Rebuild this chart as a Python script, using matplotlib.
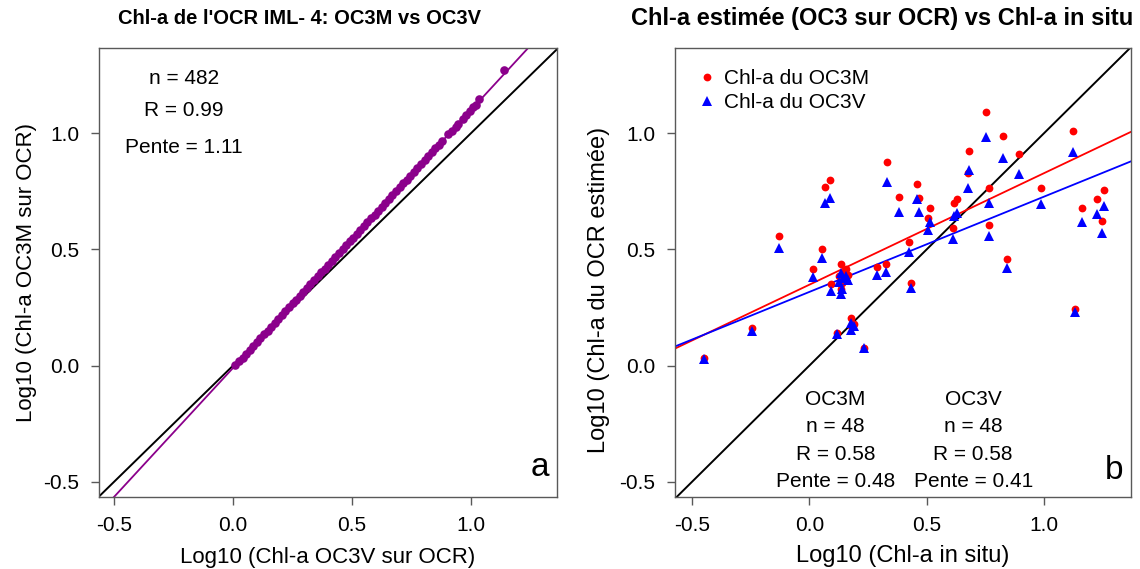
import matplotlib
matplotlib.use("Agg")
import matplotlib.pyplot as plt
from matplotlib.lines import Line2D

plt.rcParams["font.family"] = ["Liberation Sans", "DejaVu Sans"]

# --- panel a: OC3M vs OC3V (log10 Chl-a on the OCR)
oc3v_ocr = [0.010, 0.025, 0.040, 0.055, 0.070, 0.085, 0.100, 0.115, 0.130, 0.145,
            0.160, 0.175, 0.190, 0.205, 0.220, 0.235, 0.250, 0.265, 0.280, 0.295,
            0.310, 0.325, 0.340, 0.355, 0.370, 0.385, 0.400, 0.415, 0.430, 0.445,
            0.460, 0.475, 0.490, 0.505, 0.520, 0.535, 0.550, 0.565, 0.580, 0.595,
            0.610, 0.625, 0.640, 0.655, 0.670, 0.685, 0.700, 0.715, 0.730, 0.745,
            0.760, 0.775, 0.790, 0.805, 0.820, 0.835, 0.850, 0.865, 0.880, 0.905,
            0.920, 0.935, 0.945, 0.965, 0.980, 0.995, 1.010, 1.020, 1.034, 1.140]
oc3m_ocr = [0.002, 0.018, 0.034, 0.051, 0.068, 0.085, 0.101, 0.118, 0.134, 0.151,
            0.168, 0.184, 0.201, 0.218, 0.234, 0.251, 0.268, 0.284, 0.301, 0.318,
            0.334, 0.351, 0.367, 0.384, 0.401, 0.417, 0.434, 0.451, 0.467, 0.484,
            0.501, 0.517, 0.534, 0.551, 0.567, 0.584, 0.601, 0.617, 0.634, 0.650,
            0.667, 0.684, 0.700, 0.717, 0.734, 0.750, 0.767, 0.784, 0.800, 0.817,
            0.834, 0.850, 0.867, 0.884, 0.900, 0.917, 0.934, 0.950, 0.967, 0.995,
            1.011, 1.028, 1.039, 1.061, 1.078, 1.094, 1.111, 1.122, 1.148, 1.272]
fit_a = (-0.01, 1.11)          # intercept, slope
stats_a = ["n = 482", "R = 0.99", "Pente = 1.11"]

# --- panel b: estimated Chl-a (OC3M / OC3V on OCR) vs in situ
in_situ = [-0.447, -0.243, -0.131, 0.016, 0.054, 0.065, 0.089, 0.094, 0.118, 0.136,
           0.157, 0.136, 0.178, 0.190, 0.178, 0.235, 0.288, 0.328, 0.333, 0.383,
           0.426, 0.433, 0.458, 0.469, 0.505, 0.512, 0.614, 0.617, 0.631, 0.678,
           0.675, 0.753, 0.766, 0.767, 0.827, 0.841, 0.894, 0.986, 1.121, 1.130,
           1.160, 1.224, 1.245, 1.253, 0.125, 0.145, 0.165, 0.140]
chl_oc3m = [0.035, 0.160, 0.557, 0.417, 0.503, 0.769, 0.799, 0.349, 0.140, 0.438,
            0.417, 0.328, 0.205, 0.180, 0.170, 0.076, 0.424, 0.438, 0.874, 0.727,
            0.531, 0.356, 0.783, 0.723, 0.637, 0.677, 0.593, 0.698, 0.716, 0.924,
            0.830, 1.089, 0.763, 0.605, 0.988, 0.457, 0.909, 0.762, 1.011, 0.245,
            0.677, 0.716, 0.622, 0.754, 0.385, 0.400, 0.390, 0.355]
chl_oc3v = [0.030, 0.150, 0.507, 0.381, 0.464, 0.701, 0.723, 0.320, 0.134, 0.400,
            0.385, 0.306, 0.184, 0.170, 0.155, 0.076, 0.389, 0.404, 0.790, 0.662,
            0.488, 0.335, 0.716, 0.661, 0.583, 0.618, 0.543, 0.644, 0.658, 0.840,
            0.766, 0.984, 0.698, 0.557, 0.895, 0.420, 0.823, 0.694, 0.919, 0.230,
            0.618, 0.654, 0.569, 0.687, 0.360, 0.375, 0.370, 0.330]
fit_oc3m = (0.348, 0.48)
fit_oc3v = (0.317, 0.41)
stats_oc3m = ["OC3M", "n = 48", "R = 0.58", "Pente = 0.48"]
stats_oc3v = ["OC3V", "n = 48", "R = 0.58", "Pente = 0.41"]

TICKS = [-0.5, 0.0, 0.5, 1.0]
TICKLAB = ["-0.5", "0.0", "0.5", "1.0"]
PURPLE = "#8B008B"
SPINE = "0.35"
FS = 15


def style(ax, xlim, ylim):
    ax.set_xlim(*xlim)
    ax.set_ylim(*ylim)
    ax.set_xticks(TICKS)
    ax.set_xticklabels(TICKLAB)
    ax.set_yticks(TICKS)
    ax.set_yticklabels(TICKLAB)
    ax.tick_params(direction="out", length=6, width=1, color=SPINE,
                   labelsize=FS, pad=8)
    for s in ax.spines.values():
        s.set_color(SPINE)
        s.set_linewidth(1)


fig = plt.figure(figsize=(11.4, 5.69), dpi=100)
ax1 = fig.add_axes([0.0868, 0.1265, 0.4018, 0.7891])
ax2 = fig.add_axes([0.5921, 0.1265, 0.4000, 0.7891])

# panel a
ax1.axline((0, 0), slope=1, color="black", lw=1.4)
ax1.axline((0, fit_a[0]), slope=fit_a[1], color=PURPLE, lw=1.3)
ax1.plot(oc3v_ocr, oc3m_ocr, ls="none", marker="o", ms=6.2, color=PURPLE, mew=0)
for txt, y in zip(stats_a, [1.237, 1.099, 0.94]):
    ax1.text(-0.206, y, txt, ha="center", va="center", fontsize=FS)
ax1.text(0.963, 0.065, "a", transform=ax1.transAxes, ha="center", va="center",
         fontsize=24)
style(ax1, (-0.563, 1.361), (-0.565, 1.366))
ax1.set_xlabel("Log10 (Chl-a OC3V sur OCR)", fontsize=16, labelpad=8)
ax1.set_ylabel("Log10 (Chl-a OC3M sur OCR)", fontsize=16, labelpad=5)
fig.text(300 / 1140, 1 - 19 / 569, "Chl-a de l'OCR IML- 4: OC3M vs OC3V",
         ha="center", va="center", fontsize=14.5, fontweight="bold")

# panel b
ax2.axline((0, 0), slope=1, color="black", lw=1.4)
ax2.axline((0, fit_oc3m[0]), slope=fit_oc3m[1], color="red", lw=1.3)
ax2.axline((0, fit_oc3v[0]), slope=fit_oc3v[1], color="blue", lw=1.3)
ax2.plot(in_situ, chl_oc3m, ls="none", marker="o", ms=5.6, color="red", mew=0)
ax2.plot(in_situ, chl_oc3v, ls="none", marker="^", ms=7, color="blue", mew=0)
for col, x in ((stats_oc3m, 0.111), (stats_oc3v, 0.698)):
    for txt, y in zip(col, [-0.147, -0.263, -0.384, -0.5]):
        ax2.text(x, y, txt, ha="center", va="center", fontsize=FS)
ax2.text(0.963, 0.058, "b", transform=ax2.transAxes, ha="center", va="center",
         fontsize=24)
handles = [Line2D([], [], ls="none", marker="o", ms=5.6, color="red", mew=0),
           Line2D([], [], ls="none", marker="^", ms=7, color="blue", mew=0)]
ax2.legend(handles, ["Chl-a du OC3M", "Chl-a du OC3V"], loc="upper left",
           bbox_to_anchor=(0.03, 0.972), frameon=False, fontsize=FS,
           handlelength=1.0, handletextpad=0.3, labelspacing=0.25,
           borderaxespad=0.0)
style(ax2, (-0.572, 1.37), (-0.565, 1.366))
ax2.set_xlabel("Log10 (Chl-a in situ)", fontsize=17, labelpad=7)
ax2.set_ylabel("Log10 (Chl-a du OCR estimée)", fontsize=17)
ax2.yaxis.set_label_coords(-(675 - 610) / 456, (497 - 290) / 449)
fig.text(882 / 1140, 1 - 19 / 569, "Chl-a estimée (OC3 sur OCR) vs Chl-a in situ",
         ha="center", va="center", fontsize=17, fontweight="bold")

fig.savefig("out.png", dpi=100)
